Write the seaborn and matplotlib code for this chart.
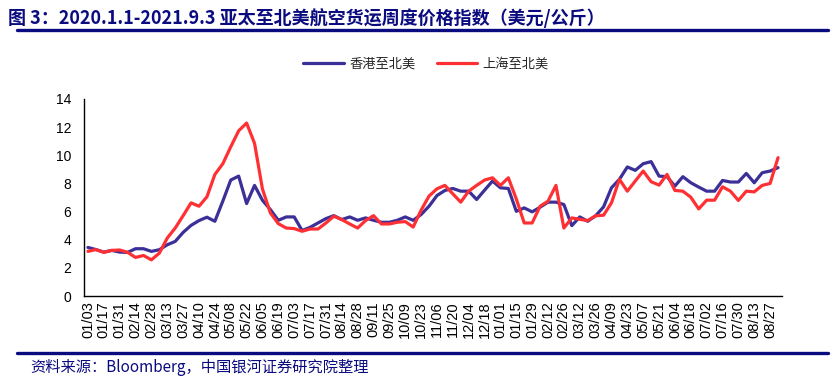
import numpy as np
import pandas as pd
import matplotlib
matplotlib.use("Agg")
import matplotlib.pyplot as plt
from matplotlib.lines import Line2D
import seaborn as sns

# ---------------- data ----------------
week_start = "2020-01-03"
n_weeks = 88
series_names = ["香港至北美", "上海至北美"]

hk_na = [3.45, 3.30, 3.12, 3.24, 3.12, 3.10, 3.36, 3.36, 3.17, 3.29,
         3.64, 3.88, 4.52, 5.02, 5.36, 5.60, 5.31, 6.74, 8.24, 8.52,
         6.57, 7.86, 6.80, 6.14, 5.38, 5.62, 5.62, 4.65, 4.88, 5.19,
         5.50, 5.71, 5.43, 5.62, 5.38, 5.55, 5.38, 5.24, 5.24, 5.38,
         5.62, 5.38, 5.79, 6.38, 7.14, 7.50, 7.64, 7.45, 7.45, 6.86,
         7.52, 8.17, 7.69, 7.64, 6.02, 6.26, 5.98, 6.31, 6.67, 6.67,
         6.50, 5.00, 5.62, 5.31, 5.70, 6.33, 7.69, 8.29, 9.17, 8.93,
         9.40, 9.55, 8.52, 8.48, 7.81, 8.48, 8.05, 7.74, 7.45, 7.45,
         8.21, 8.10, 8.10, 8.71, 8.05, 8.76, 8.88, 9.12]

sh_na = [3.17, 3.30, 3.10, 3.24, 3.27, 3.10, 2.74, 2.88, 2.57, 3.05,
         4.12, 4.83, 5.71, 6.62, 6.38, 7.05, 8.64, 9.40, 10.60, 11.74,
         12.29, 10.85, 7.60, 5.90, 5.14, 4.83, 4.79, 4.60, 4.76, 4.76,
         5.19, 5.67, 5.43, 5.12, 4.83, 5.36, 5.71, 5.12, 5.12, 5.24,
         5.29, 4.90, 6.10, 7.10, 7.62, 7.86, 7.26, 6.67, 7.45, 7.86,
         8.24, 8.40, 7.86, 8.40, 6.90, 5.19, 5.19, 6.38, 6.74, 7.86,
         4.83, 5.55, 5.45, 5.36, 5.70, 5.74, 6.62, 8.29, 7.45, 8.17,
         8.88, 8.12, 7.88, 8.64, 7.50, 7.45, 7.02, 6.19, 6.81, 6.81,
         7.76, 7.45, 6.79, 7.45, 7.40, 7.86, 8.00, 9.83]

y_ticks = [0, 2, 4, 6, 8, 10, 12, 14]

title_text = "图 3：2020.1.1-2021.9.3 亚太至北美航空货运周度价格指数（美元/公斤）"
source_text = "资料来源：Bloomberg，中国银河证券研究院整理"

colors = {"香港至北美": "#3b2f98", "上海至北美": "#ff3033"}
navy = "#0b0b80"

# ---------------- build table ----------------
weeks = pd.date_range(week_start, periods=n_weeks, freq="7D")
idx = np.arange(n_weeks)
df = pd.DataFrame({
    "idx": np.concatenate([idx, idx]),
    "value": hk_na + sh_na,
    "series": [series_names[0]] * n_weeks + [series_names[1]] * n_weeks,
})
tick_pos = idx[::2]
tick_labels = [d.strftime("%m/%d") for d in weeks[::2]]

# ---------------- plot ----------------
sns.set_theme(style="white")
plt.rcParams["font.family"] = ["Liberation Sans", "Noto Sans CJK SC", "DejaVu Sans"]
plt.rcParams["axes.unicode_minus"] = False

W, H = 836, 381
fig = plt.figure(figsize=(W / 100, H / 100), dpi=100)
ax = fig.add_axes([84 / W, 1 - 296 / H, (782 - 84) / W, (296 - 99) / H])

sns.lineplot(data=df, x="idx", y="value", hue="series", hue_order=series_names,
             palette=colors, linewidth=2.3, ax=ax, legend=False, sort=False)

ax.set_xlim(-0.5, n_weeks - 0.5)
ax.set_ylim(0, 14)
ax.set_yticks(y_ticks)
ax.set_yticklabels([str(v) for v in y_ticks], fontsize=10)
ax.set_xticks(tick_pos)
ax.set_xticklabels(tick_labels, rotation=90, fontsize=10.5)
ax.tick_params(axis="both", length=0, colors="black")
ax.tick_params(axis="y", pad=9)
ax.tick_params(axis="x", pad=4)
ax.set_xlabel("")
ax.set_ylabel("")
for s in ["top", "right"]:
    ax.spines[s].set_visible(False)
for s in ["left", "bottom"]:
    ax.spines[s].set_color("black")
    ax.spines[s].set_linewidth(1.0)
ax.grid(False)

# legend
handles = [Line2D([0], [0], color=colors[n], lw=2.3) for n in series_names]
fig.legend(handles, series_names, loc="center", ncol=2,
           bbox_to_anchor=(426 / W, 1 - 64 / H), frameon=False,
           prop={"family": ["Noto Sans CJK SC"], "size": 9.5},
           handlelength=3.1, handletextpad=0.4, columnspacing=1.6)

# title & rules
fig.text(8 / W, 1 - 18 / H, title_text, ha="left", va="center",
         fontsize=13, fontweight="bold", color=navy,
         family=["Noto Sans CJK SC", "DejaVu Sans"])
fig.add_artist(Line2D([17 / W, 828 / W], [1 - 30 / H, 1 - 30 / H],
                      color=navy, lw=2.4, transform=fig.transFigure))
fig.add_artist(Line2D([17 / W, 828 / W], [1 - 353 / H, 1 - 353 / H],
                      color=navy, lw=2.4, transform=fig.transFigure))
fig.text(30 / W, 1 - 367 / H, source_text, ha="left", va="center",
         fontsize=11, color=navy, family=["Noto Sans CJK SC", "DejaVu Sans"])

fig.savefig("out.png", dpi=100)
